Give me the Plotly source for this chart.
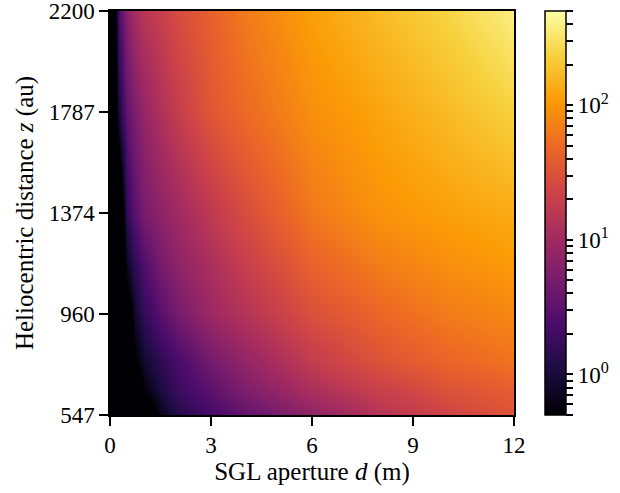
import numpy as np
import plotly.graph_objects as go

# SGL aperture d (m) -- columns
aperture_d = [0, 0.25, 0.5, 0.75, 1, 1.5, 2, 3, 4, 6, 8, 10, 12]
# Heliocentric distance z (au) -- rows
distance_z = [547, 650, 760, 960, 1170, 1374, 1787, 2200]

# values (log colour scale)
row_547 = [0.05, 0.05, 0.05, 0.1, 0.2, 0.67, 1.23, 2.15, 3.4, 7.4, 14, 23, 32]
row_650 = [0.05, 0.05, 0.05, 0.12, 0.55, 1.08, 1.77, 3.1, 5.5, 12, 20, 31, 40]
row_760 = [0.05, 0.05, 0.08, 0.46, 0.82, 1.46, 2.15, 4.6, 7.7, 18, 31, 45, 57]
row_960 = [0.05, 0.05, 0.27, 0.85, 1.6, 2.9, 4.8, 9.2, 14, 30, 47, 66, 80]
row_1170 = [0.05, 0.08, 0.77, 1.54, 2.6, 5.0, 7.2, 12.2, 20, 44, 68, 90, 108]
row_1374 = [0.05, 0.15, 1.54, 3.1, 5.0, 7.2, 9.7, 17, 28, 63, 95, 115, 135]
row_1787 = [0.05, 1.1, 3.5, 5.5, 8.1, 13, 18.5, 35, 50, 90, 122, 168, 236]
row_2200 = [0.05, 2.5, 6.6, 11.3, 15, 20, 27, 42, 65, 115, 170, 245, 380]

rows = [row_547, row_650, row_760, row_960, row_1170, row_1374, row_1787, row_2200]

cbar_min, cbar_max = 0.5, 500
y_ticks = [547, 960, 1374, 1787, 2200]
x_ticks = [0, 3, 6, 9, 12]

logz = np.log10(np.array(rows, dtype=float))

# colorbar ticks (log positions)
minor_vals = []
for dec in [0.1, 1, 10, 100]:
    for m in range(1, 10):
        v = m * dec
        if cbar_min - 1e-9 <= v <= cbar_max + 1e-9:
            minor_vals.append(v)
tickvals = [float(np.log10(v)) for v in minor_vals]
labels = {0: "10<sup>0</sup>", 1: "10<sup>1</sup>", 2: "10<sup>2</sup>"}
ticktext = []
for v in minor_vals:
    lv = np.log10(v)
    if abs(lv - round(lv)) < 1e-9 and int(round(lv)) in labels:
        ticktext.append(labels[int(round(lv))])
    else:
        ticktext.append("")

FONT = "Liberation Serif"
TICK_SIZE = 23
TITLE_SIZE = 25

fig = go.Figure(go.Heatmap(
    x=aperture_d, y=distance_z, z=logz,
    zmin=np.log10(cbar_min), zmax=np.log10(cbar_max),
    colorscale="Inferno", zsmooth="best",
    colorbar=dict(
        x=1.074, xanchor="left", xpad=0, y=0.5, yanchor="middle", ypad=0,
        len=1, lenmode="fraction", thickness=21, thicknessmode="pixels",
        outlinewidth=1.5, outlinecolor="black",
        tickmode="array", tickvals=tickvals, ticktext=ticktext,
        ticks="outside", ticklen=7, tickwidth=1.5, tickcolor="black",
        tickfont=dict(family=FONT, size=TICK_SIZE, color="black"),
    ),
))

axis_common = dict(showline=True, linecolor="black", linewidth=1.5, mirror=True,
                   ticks="outside", ticklen=9, tickwidth=1.5, tickcolor="black",
                   showgrid=False, zeroline=False, automargin=False,
                   ticklabeloverflow="allow",
                   tickfont=dict(family=FONT, size=TICK_SIZE, color="black"))

fig.update_xaxes(range=[-0.003, 12.003], tickvals=x_ticks,
                 title=dict(text="SGL aperture <i>d</i> (m)", font=dict(family=FONT, size=TITLE_SIZE, color="black"), standoff=4),
                 **axis_common)
fig.update_yaxes(range=[546.5, 2200.5], tickvals=y_ticks,
                 title=dict(text="Heliocentric distance <i>z</i> (au)", font=dict(family=FONT, size=TITLE_SIZE, color="black"), standoff=8),
                 **axis_common)

fig.update_layout(width=620, height=493, margin=dict(l=110, r=105, t=11, b=78),
                  paper_bgcolor="white", plot_bgcolor="white",
                  font=dict(family=FONT, color="black"))

fig.write_html("out.html")
